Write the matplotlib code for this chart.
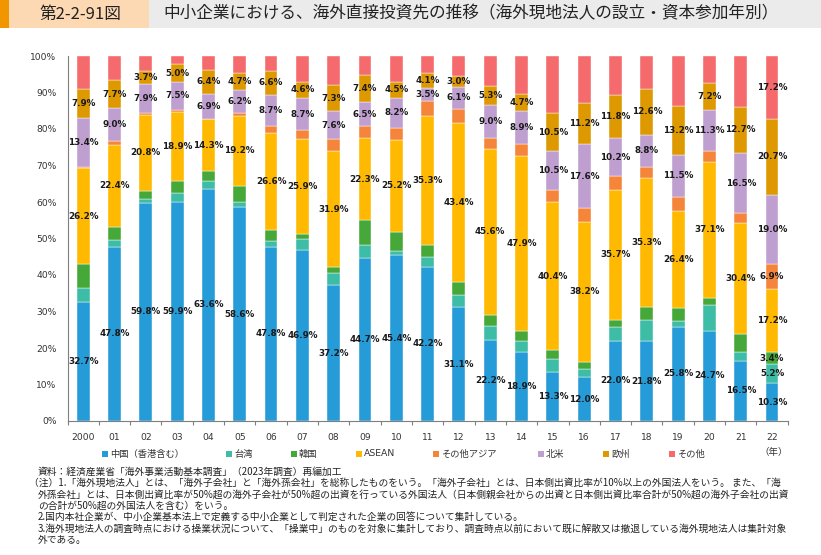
import numpy as np
import matplotlib
matplotlib.use('Agg')
import matplotlib.pyplot as plt
from matplotlib.patches import Rectangle

plt.rcParams['font.family'] = ['DejaVu Sans', 'Noto Sans CJK JP']
JP = ['Noto Sans CJK JP', 'DejaVu Sans']

# 年（2000年～2022年）
years = ['2000', '01', '02', '03', '04', '05', '06', '07', '08', '09', '10',
         '11', '12', '13', '14', '15', '16', '17', '18', '19', '20', '21', '22']

# 投資先別の構成比（%）
china = [32.7, 47.8, 59.8, 59.9, 63.6, 58.6, 47.8, 46.9, 37.2, 44.7, 45.4, 42.2,
         31.1, 22.2, 18.9, 13.3, 12.0, 22.0, 21.8, 25.8, 24.7, 16.5, 10.3]
taiwan = [3.8, 1.9, 0.9, 2.5, 2.2, 1.4, 1.5, 3.0, 3.4, 3.5, 1.2, 2.8,
          3.4, 3.8, 3.0, 3.8, 2.2, 3.8, 5.9, 1.6, 7.0, 2.4, 5.2]
korea = [6.5, 3.5, 2.4, 3.4, 2.6, 4.4, 3.0, 1.4, 1.5, 6.9, 5.3, 3.2,
         3.7, 3.0, 2.8, 2.4, 2.1, 1.9, 3.6, 3.6, 2.1, 5.0, 3.4]
asean = [26.2, 22.4, 20.8, 18.9, 14.3, 19.2, 26.6, 25.9, 31.9, 22.3, 25.2, 35.3,
         43.4, 45.6, 47.9, 40.4, 38.2, 35.7, 35.3, 26.4, 37.1, 30.4, 17.2]
other_asia = [0.5, 1.1, 0.4, 0.6, 0.1, 0.9, 1.8, 2.5, 3.2, 3.4, 3.2, 4.2,
              3.9, 2.9, 3.3, 3.5, 3.8, 3.8, 3.0, 4.1, 3.1, 2.6, 6.9]
north_america = [13.4, 9.0, 7.9, 7.5, 6.9, 6.2, 8.7, 8.7, 7.6, 6.5, 8.2, 3.5,
                 6.1, 9.0, 8.9, 10.5, 17.6, 10.2, 8.8, 11.5, 11.3, 16.5, 19.0]
europe = [7.9, 7.7, 3.7, 5.0, 6.4, 4.7, 6.6, 4.6, 7.3, 7.4, 4.5, 4.1,
          3.0, 5.3, 4.7, 10.5, 11.2, 11.8, 12.6, 13.2, 7.2, 12.7, 20.7]
other = [9.0, 6.6, 4.1, 2.2, 3.9, 4.6, 4.0, 7.0, 7.9, 5.3, 7.0, 4.7,
         5.4, 8.2, 10.5, 15.6, 12.9, 10.8, 9.0, 13.8, 7.5, 13.9, 17.2]

series_names = ['中国（香港含む）', '台湾', '韓国', 'ASEAN', 'その他アジア', '北米', '欧州', 'その他']
series_values = [china, taiwan, korea, asean, other_asia, north_america, europe, other]
colors = ['#259bd7', '#3dbda6', '#47a83a', '#ffb900', '#f5853b', '#bf9fcf', '#de9800', '#f56a6c']
# 全年ラベルを付ける系列（それ以外は最終年のみ）
label_all = [True, False, False, True, False, True, True, False]

W, H = 821, 555
fig = plt.figure(figsize=(W / 100, H / 100), dpi=100)
ax = fig.add_axes([67.5 / W, 1 - 421 / H, (787.7 - 67.5) / W, (421 - 56) / H])

x = np.arange(len(years))
bottom = np.zeros(len(years))
for vals, col, every in zip(series_values, colors, label_all):
    vals = np.array(vals)
    bars = ax.bar(x, vals, 0.41, bottom=bottom, color=col,
                  edgecolor='white', linewidth=0.3)
    labels = [f'{v:.1f}%' if (every or i == len(vals) - 1) else ''
              for i, v in enumerate(vals)]
    ax.bar_label(bars, labels=labels, label_type='center', fontsize=6.3,
                 fontweight='bold', color='#1a1a1a', family='DejaVu Sans')
    bottom += vals

ax.set_xlim(-0.5, len(years) - 0.5)
ax.set_ylim(0, 100)
ax.set_yticks(range(0, 101, 10), [f'{v}%' for v in range(0, 101, 10)])
ax.set_xticks(x, years)
ax.set_xticks(np.arange(-0.5, len(years), 1), minor=True)
ax.tick_params(axis='y', length=0, pad=8, labelsize=6.6, colors='#333333')
ax.tick_params(axis='x', which='major', length=0, pad=9, labelsize=6.6, colors='#333333')
ax.tick_params(axis='x', which='minor', length=3, color='#7f7f7f', width=0.8)
for s in ['top', 'right']:
    ax.spines[s].set_visible(False)
for s in ['left', 'bottom']:
    ax.spines[s].set_color('#7f7f7f')
    ax.spines[s].set_linewidth(0.8)

# 見出し・凡例・注記はピクセル座標の重ね軸に描く
ov = fig.add_axes([0, 0, 1, 1])
ov.set_xlim(0, W)
ov.set_ylim(H, 0)
ov.axis('off')

ov.add_patch(Rectangle((0, 0), 9, 28, color='#f29600', lw=0))
ov.add_patch(Rectangle((9, 0), 140, 28, color='#fdd9b3', lw=0))
ov.add_patch(Rectangle((149, 0), W - 149, 28, color='#ebebeb', lw=0))
ov.text(80, 14, '第2-2-91図', ha='center', va='center', fontsize=12,
        family=JP, color='#222222')
ov.text(163, 14, '中小企業における、海外直接投資先の推移（海外現地法人の設立・資本参加年別）',
        ha='left', va='center', fontsize=12, family=JP, color='#222222')

legend_x = [105, 229, 294, 359, 436, 541, 606, 672]
for lx, name, col in zip(legend_x, series_names, colors):
    ov.add_patch(Rectangle((lx - 3, 451), 6, 6, color=col, lw=0))
    ov.text(lx + 5, 454, name, ha='left', va='center', fontsize=6.7, color='#333333')
ov.text(774, 452, '（年）', ha='center', va='center', fontsize=6.8, family=JP, color='#333333')

notes = [
    '資料：経済産業省「海外事業活動基本調査」（2023年調査）再編加工',
    '（注）1.「海外現地法人」とは、「海外子会社」と「海外孫会社」を総称したものをいう。「海外子会社」とは、日本側出資比率が10%以上の外国法人をいう。 また、「海',
    '外孫会社」とは、日本側出資比率が50%超の海外子会社が50%超の出資を行っている外国法人（日本側親会社からの出資と日本側出資比率合計が50%超の海外子会社の出資',
    'の合計が50%超の外国法人を含む）をいう。',
    '2.国内本社企業が、中小企業基本法上で定義する中小企業として判定された企業の回答について集計している。',
    '3.海外現地法人の調査時点における操業状況について、「操業中」のものを対象に集計しており、調査時点以前において既に解散又は撤退している海外現地法人は集計対象',
    '外である。',
]
note_y = [471.5, 483, 494.5, 506, 517, 528.5, 539.5]
note_x = [38, 29, 38, 38, 38, 38, 38]
for nx, ny, line in zip(note_x, note_y, notes):
    ov.text(nx, ny, line, ha='left', va='center', fontsize=7.0, family=JP, color='#222222')

fig.savefig('out.png', dpi=100, facecolor='white')
